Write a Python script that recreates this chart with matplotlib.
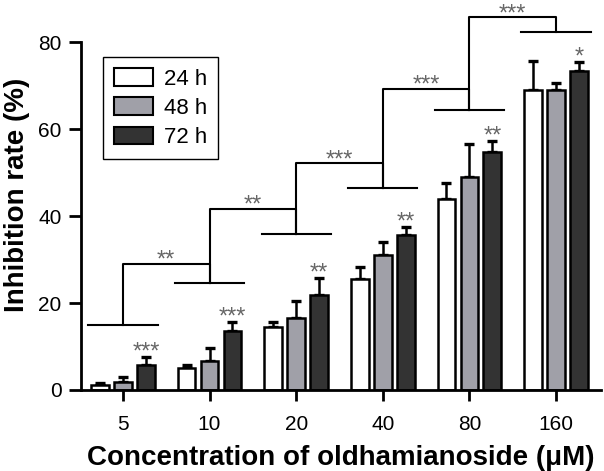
import numpy as np
import matplotlib.pyplot as plt
from matplotlib.patches import Patch

plt.rcParams['font.family'] = ['Liberation Sans', 'DejaVu Sans']

# Данные
groups = ['5', '10', '20', '40', '80', '160']
mean_24 = [1.2, 5.0, 14.5, 25.5, 43.9, 69.0]
err_24 = [0.3, 0.7, 1.1, 2.8, 3.7, 6.6]
mean_48 = [1.8, 6.7, 16.5, 31.0, 49.0, 69.0]
err_48 = [1.2, 3.0, 4.0, 3.0, 7.5, 1.6]
mean_72 = [5.7, 13.6, 21.8, 35.6, 54.7, 73.3]
err_72 = [1.9, 2.0, 3.9, 1.9, 2.5, 2.1]
stars_72 = ['***', '***', '**', '**', '**', '*']

# Скобки сравнения соседних групп
group_line_y = [14.9, 24.6, 35.8, 46.4, 64.4, 82.3]
bracket_top = [29.0, 41.6, 52.1, 69.2, 85.7]
bracket_labels = ['**', '**', '***', '***', '***']

series = ['24 h', '48 h', '72 h']
colors = ['white', '#a0a0a8', '#333333']
means = [mean_24, mean_48, mean_72]
errs = [err_24, err_48, err_72]

fig = plt.figure(figsize=(6.04, 4.71), dpi=100)
ax = fig.add_axes([0.134, 0.172, 0.861, 0.828])

x = np.arange(len(groups))
step = 0.265
width = 0.204
for i in range(3):
    pos = x + (i - 1) * step
    ax.bar(pos, means[i], width, color=colors[i], edgecolor='black', linewidth=1.8, zorder=2)
    ax.errorbar(pos, means[i], yerr=[np.zeros(len(groups)), errs[i]], fmt='none',
                ecolor='black', elinewidth=1.8, capsize=3.5, capthick=2.4, zorder=1)

star_kw = dict(ha='center', va='baseline', fontsize=17, color='#666666',
               textcoords='offset points', annotation_clip=False)

# Звёздочки над столбцами 72 h
for xi, m, e, s in zip(x, mean_72, err_72, stars_72):
    ax.annotate(s, xy=(xi + step, m + e), xytext=(0, -1), **star_kw)

# Скобки
lw = 1.5
for k in range(len(groups)):
    ax.plot([x[k] - 0.40, x[k] + 0.40], [group_line_y[k]] * 2, color='black', lw=lw, clip_on=False)
for k in range(len(bracket_top)):
    ax.plot([x[k], x[k], x[k + 1], x[k + 1]],
            [group_line_y[k], bracket_top[k], bracket_top[k], group_line_y[k + 1]],
            color='black', lw=lw, clip_on=False)
    ax.annotate(bracket_labels[k], xy=((x[k] + x[k + 1]) / 2, bracket_top[k]),
                xytext=(0, -2), **star_kw)

ax.set_xlim(-0.485, 5.52)
ax.set_ylim(0, 89.7)
ax.set_yticks([0, 20, 40, 60, 80])
ax.set_xticks(x)
ax.set_xticklabels(groups)
ax.spines['top'].set_visible(False)
ax.spines['right'].set_visible(False)
ax.spines['left'].set_bounds(0, 80)
ax.spines['left'].set_linewidth(2)
ax.spines['bottom'].set_linewidth(2)
ax.tick_params(axis='both', labelsize=15, width=2)
ax.tick_params(axis='y', length=9, pad=5)
ax.tick_params(axis='x', length=8, pad=10)

ax.set_xlabel('Concentration of oldhamianoside (μM)', fontsize=20, fontweight='bold', labelpad=8)
ax.set_ylabel('Inhibition rate (%)', fontsize=20, fontweight='bold', labelpad=6)

handles = [Patch(facecolor=c, edgecolor='black', linewidth=1.5) for c in colors]
leg = ax.legend(handles, series, loc='upper left', bbox_to_anchor=(0.042, 0.854),
                borderaxespad=0, fontsize=16, fancybox=False, edgecolor='black',
                handlelength=1.75, handleheight=0.85, labelspacing=0.35, borderpad=0.5,
                handletextpad=0.5, framealpha=1)
leg.get_frame().set_linewidth(1.0)

plt.savefig('out.png', dpi=100)
